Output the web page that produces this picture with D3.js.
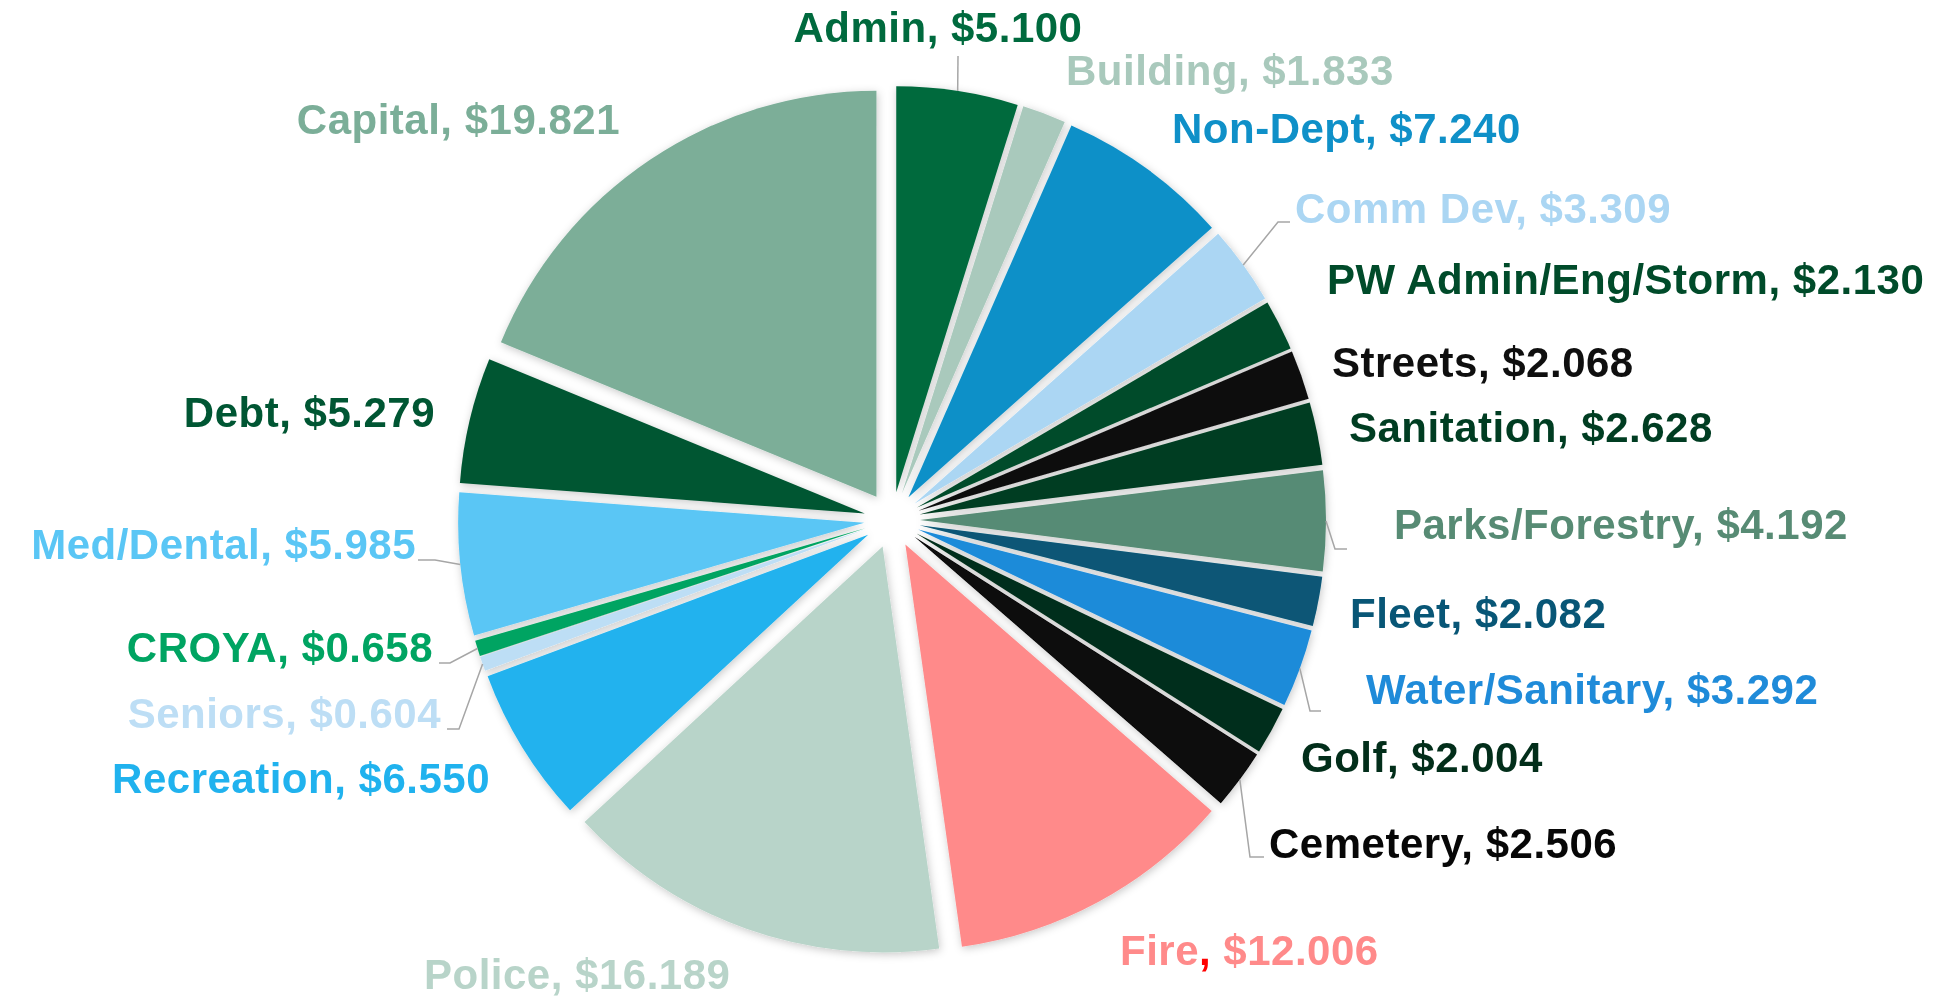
<!DOCTYPE html>
<html>
<head>
<meta charset="utf-8">
<script src="https://cdn.jsdelivr.net/npm/d3@7"></script>
<style>
  body { margin: 0; background: #fff; }
</style>
</head>
<body>
<svg id="chart"></svg>
<script>
// budget by department, $ millions, clockwise from 12 o'clock
const categories = ["Admin", "Building", "Non-Dept", "Comm Dev", "PW Admin/Eng/Storm", "Streets",
  "Sanitation", "Parks/Forestry", "Fleet", "Water/Sanitary", "Golf", "Cemetery", "Fire", "Police",
  "Recreation", "Seniors", "CROYA", "Med/Dental", "Debt", "Capital"];
const values = [5.100, 1.833, 7.240, 3.309, 2.130, 2.068, 2.628, 4.192, 2.082, 3.292, 2.004, 2.506,
  12.006, 16.189, 6.550, 0.604, 0.658, 5.985, 5.279, 19.821];

const colors = ["#006a3e", "#a9c9bc", "#0f90c8", "#abd6f3", "#004b2a", "#0f0f0f", "#003d22", "#578b74",
  "#085676", "#1f8bd9", "#022e1a", "#070707", "#ff8a8a", "#b8d4c9", "#20b2ee", "#bddef5", "#00a462",
  "#5ac6f5", "#005633", "#7bae98"];

const width = 1939, height = 999;
const cx = 892, cy = 520, radius = 406, explode = 28;

// label layout: [x, baseline, anchor]
const labelPos = {
  "Admin": [938, 42, "middle"],
  "Building": [1066, 85, "start"],
  "Non-Dept": [1172, 143, "start"],
  "Comm Dev": [1295, 223, "start"],
  "PW Admin/Eng/Storm": [1327, 294, "start"],
  "Streets": [1332, 377, "start"],
  "Sanitation": [1349, 442, "start"],
  "Parks/Forestry": [1394, 539, "start"],
  "Fleet": [1350, 628, "start"],
  "Water/Sanitary": [1366, 704, "start"],
  "Golf": [1301, 772, "start"],
  "Cemetery": [1269, 858, "start"],
  "Fire": [1120, 965, "start"],
  "Police": [424, 989, "start"],
  "Recreation": [490, 793, "end"],
  "Seniors": [441, 728, "end"],
  "CROYA": [433, 662, "end"],
  "Med/Dental": [416, 559, "end"],
  "Debt": [435, 427, "end"],
  "Capital": [620, 134, "end"]
};
// leader line bends, starting at the slice edge
const leaders = {
  "Admin": [[958, 56]],
  "Comm Dev": [[1278, 222], [1290, 222]],
  "Parks/Forestry": [[1335, 549], [1347, 549]],
  "Water/Sanitary": [[1310, 711], [1321, 711]],
  "Cemetery": [[1250, 857], [1264, 857]],
  "Med/Dental": [[435, 560], [418, 560]],
  "CROYA": [[450, 663], [439, 663]],
  "Seniors": [[459, 729], [447, 729]]
};
const commaColor = {"Fire": "#ff0000"};

const data = categories.map((c, i) => ({name: c, value: values[i], color: colors[i]}));

const svg = d3.select("#chart")
    .attr("width", width)
    .attr("height", height)
    .attr("viewBox", [0, 0, width, height]);

const defs = svg.append("defs");
defs.append("filter").attr("id", "shadow")
    .attr("x", "-20%").attr("y", "-20%").attr("width", "140%").attr("height", "140%")
  .append("feDropShadow")
    .attr("dx", 1).attr("dy", 2)
    .attr("stdDeviation", 4)
    .attr("flood-color", "#000")
    .attr("flood-opacity", 0.22);

const pie = d3.pie().sort(null).value(d => d.value).startAngle(0).endAngle(2 * Math.PI);
const arc = d3.arc().innerRadius(0).outerRadius(radius);
const arcs = pie(data);

const mid = d => (d.startAngle + d.endAngle) / 2;

svg.append("g")
    .attr("filter", "url(#shadow)")
    .attr("transform", `translate(${cx},${cy})`)
  .selectAll("path")
  .data(arcs)
  .join("path")
    .attr("d", arc)
    .attr("fill", d => d.data.color)
    .attr("transform", d => `translate(${explode * Math.sin(mid(d))},${-explode * Math.cos(mid(d))})`);

// leader lines
svg.append("g")
  .selectAll("polyline")
  .data(arcs.filter(d => leaders[d.data.name]))
  .join("polyline")
    .attr("fill", "none")
    .attr("stroke", "#a6a6a6")
    .attr("stroke-width", 1.5)
    .attr("points", d => {
      let a = mid(d), r = radius + explode;
      let start = [cx + r * Math.sin(a), cy - r * Math.cos(a)];
      return [start, ...leaders[d.data.name]].map(p => p.join(",")).join(" ");
    });

// labels
const labels = svg.append("g")
    .attr("font-family", "'Liberation Sans', Arial, sans-serif")
    .attr("font-weight", "bold")
    .attr("font-size", "42px")
    .attr("letter-spacing", "0.5px")
  .selectAll("text")
  .data(data)
  .join("text")
    .attr("x", d => labelPos[d.name][0])
    .attr("y", d => labelPos[d.name][1])
    .attr("text-anchor", d => labelPos[d.name][2])
    .attr("fill", d => d.color);

labels.append("tspan").text(d => d.name);
labels.append("tspan").text(",").attr("fill", d => commaColor[d.name] || d.color);
labels.append("tspan").text(d => " $" + d.value.toFixed(3));
</script>
</body>
</html>
